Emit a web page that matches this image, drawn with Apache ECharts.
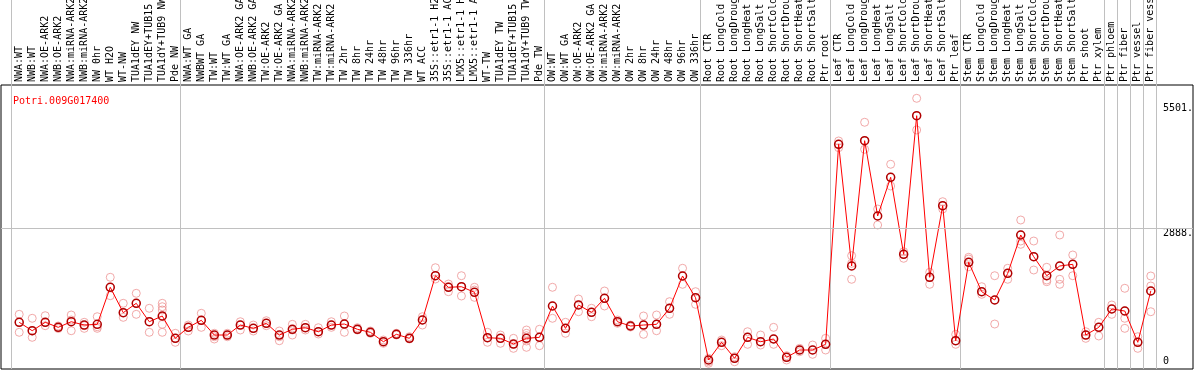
<!DOCTYPE html>
<html>
<head>
<meta charset="utf-8">
<title>Potri.009G017400</title>
<script src="https://cdn.jsdelivr.net/npm/echarts@6/dist/echarts.min.js"></script>
<style>
    html, body { margin: 0; padding: 0; background: #fff; }
    #chart_container { width: 1194px; height: 370px; }
</style>
</head>
<body>
<div id="chart_container"></div>
<script>
"use strict";

const geneName = 'Potri.009G017400';

const categories = [
    'NWA:WT', 'NWB:WT', 'NWA:OE-ARK2', 'NWB:OE-ARK2', 'NWA:miRNA-ARK2', 'NWB:miRNA-ARK2', 'NW 0hr',
    'WT H2O', 'WT-NW', 'TUA1dEY NW', 'TUA1dEY+TUB15 NW', 'TUA1dY+TUB9 NW', 'Pde NW',
    'NWA:WT GA', 'NWBWT GA', 'TW:WT', 'TW:WT GA', 'NWA:OE-ARK2 GA', 'NWB:OE-ARK2 GA', 'TW:OE-ARK2',
    'TW:OE-ARK2 GA', 'NWA:miRNA-ARK2', 'NWB:miRNA-ARK2', 'TW:miRNA-ARK2', 'TW:miRNA-ARK2',
    'TW 2hr', 'TW 8hr', 'TW 24hr', 'TW 48hr', 'TW 96hr', 'TW 336hr', 'WT ACC',
    '35S::etr1-1 H2O', '35S::etr1-1 ACC', 'LMX5::etr1-1 H2O', 'LMX5::etr1-1 ACC', 'WT-TW',
    'TUA1dEY TW', 'TUA1dEY+TUB15 TW', 'TUA1dY+TUB9 TW', 'Pde TW',
    'OW:WT', 'OW:WT GA', 'OW:OE-ARK2', 'OW:OE-ARK2 GA', 'OW:miRNA-ARK2', 'OW:miRNA-ARK2',
    'OW 2hr', 'OW 8hr', 'OW 24hr', 'OW 48hr', 'OW 96hr', 'OW 336hr',
    'Root CTR', 'Root LongCold', 'Root LongDrought', 'Root LongHeat', 'Root LongSalt',
    'Root ShortCold', 'Root ShortDrought', 'Root ShortHeat', 'Root ShortSalt', 'Ptr root',
    'Leaf CTR', 'Leaf LongCold', 'Leaf LongDrought', 'Leaf LongHeat', 'Leaf LongSalt',
    'Leaf ShortCold', 'Leaf ShortDrought', 'Leaf ShortHeat', 'Leaf ShortSalt', 'Ptr leaf',
    'Stem CTR', 'Stem LongCold', 'Stem LongDrought', 'Stem LongHeat', 'Stem LongSalt',
    'Stem ShortCold', 'Stem ShortDrought', 'Stem ShortHeat', 'Stem ShortSalt', 'Ptr shoot', 'Ptr xylem',
    'Ptr phloem', 'Ptr fiber', 'Ptr vessel', 'Ptr fiber vessel'
];

// index of the first sample of each experiment block (grey separators)
const groupStarts = [0, 13, 41, 53, 63, 73, 84, 85, 86, 87];

const means = [
    924, 748, 924, 819, 936, 867, 882, 1656, 1125, 1321, 936, 1056, 589,
    819, 966, 658, 658, 867, 798, 903, 658, 778, 811, 727, 867, 888, 778, 715, 518, 673, 589,
    972, 1898, 1656, 1668, 1551, 602, 589, 470, 589, 610,
    1265, 798, 1286, 1133, 1426, 936, 847, 867, 882, 1217, 1892, 1438,
    136, 506, 171, 610, 518, 575, 192, 345, 345, 464,
    4645, 2101, 4720, 3146, 3955, 2345, 5242, 1865, 3361, 539,
    2178, 1564, 1390, 1948, 2749, 2295, 1898, 2101, 2136, 658, 819,
    1202, 1160, 506, 1578
];

const replicates = [
    [1091, 924, 715], [1008, 742, 610], [1062, 924, 853], [847, 819, 794], [1077, 972, 748],
    [924, 853, 798], [1041, 832, 798], [1865, 1656, 1480], [1321, 1125, 1028], [1530, 1321, 1091],
    [1217, 936, 715], [1321, 1250, 1181, 1041, 882, 715], [694, 589, 506],
    [867, 819, 742], [1112, 966, 819], [694, 623, 575], [694, 658, 623], [936, 867, 763],
    [867, 798, 742], [957, 903, 853], [742, 623, 539], [882, 763, 658], [882, 811, 763],
    [811, 727, 679], [936, 867, 819], [1056, 888, 715], [811, 778, 763], [742, 715, 694],
    [554, 518, 485], [694, 673, 658], [623, 589, 575], [1041, 972, 867], [2065, 1898, 1829],
    [1724, 1668, 1564], [1898, 1668, 1474], [1656, 1599, 1446], [715, 602, 506], [658, 589, 485],
    [589, 470, 380], [763, 694, 644, 533, 401], [778, 610, 435],
    [1656, 1265, 1008], [924, 798, 694], [1411, 1286, 1145], [1217, 1133, 1041], [1578, 1426, 1265],
    [972, 936, 903], [867, 847, 826], [1056, 867, 673], [1077, 882, 748], [1355, 1217, 1091],
    [2053, 1892, 1718], [1564, 1438, 1300],
    [171, 100, 67], [554, 506, 435], [205, 171, 100], [727, 610, 464], [658, 518, 449],
    [819, 575, 464], [226, 192, 136], [380, 345, 310], [449, 345, 255], [589, 464, 345],
    [4714, 4645, 4574], [2316, 2157, 1823], [5105, 4720, 4540], [3292, 3146, 2958], [4227, 3955, 3773],
    [2400, 2345, 2262], [5606, 5242, 4944], [1969, 1865, 1718], [3445, 3361, 3292], [673, 539, 464],
    [2283, 2247, 2178, 2086], [1668, 1564, 1509], [1898, 1390, 888], [2053, 1948, 1823],
    [3062, 2749, 2623, 2554], [2623, 2295, 2017], [2074, 1898, 1808, 1773], [2749, 2101, 1823, 1718],
    [2331, 2136, 1898], [727, 658, 589], [924, 819, 638],
    [1286, 1202, 1091], [1635, 1160, 1008, 798], [623, 506, 380], [1892, 1683, 1578, 1145]
];

const yTickValues = [0, 2888, 5501];

// value range of the plot box (y 85..369)
const Y_MIN = -52, Y_MAX = 5884;
const MONO = '"DejaVu Sans Mono", "Liberation Mono", monospace';
const BAND_W = 1144.6;


let pageLoaded = () => {

    let repPoints = [];
    replicates.forEach((reps, i) => reps.forEach(v => repPoints.push([i, v])));

    let optEchart = {
        animation: false,
        backgroundColor: '#fff',
        title: {
            text: geneName, left: 8, top: 91,
            textStyle: { fontFamily: MONO, fontSize: 10, fontWeight: 'normal', color: '#ff0000' }
        },
        grid: [
            // frame
            { left: 1, right: 1, top: 85, bottom: 1, outerBoundsMode: 'none', show: true, borderColor: '#000', borderWidth: 1, backgroundColor: 'transparent' },
            // block separators (full height)
            { left: 11.2, width: BAND_W, top: 0, bottom: 1, outerBoundsMode: 'none' },
            // data
            { left: 12.7, width: BAND_W, top: 85, bottom: 1, outerBoundsMode: 'none' }
        ],
        xAxis: [
            { gridIndex: 0, type: 'value', min: 0, max: 1, show: false },
            {
                gridIndex: 1, type: 'category', data: categories,
                axisLine: { show: false }, axisTick: { show: false }, axisLabel: { show: false },
                splitLine: {
                    show: true,
                    interval: (idx) => groupStarts.includes(idx),
                    lineStyle: { color: '#c0c0c0', width: 1 }
                }
            },
            {
                gridIndex: 2, type: 'category', data: categories, position: 'top',
                axisLine: { show: false }, axisTick: { show: false }, splitLine: { show: false },
                axisLabel: { interval: 0, rotate: 90, margin: 3, fontFamily: MONO, fontSize: 10, color: '#000' }
            }
        ],
        yAxis: [
            {
                gridIndex: 0, type: 'value', min: Y_MIN, max: Y_MAX, position: 'right',
                axisLine: { show: false }, axisTick: { show: false }, splitLine: { show: false },
                axisLabel: {
                    inside: true, margin: 30, align: 'left',
                    customValues: yTickValues,
                    formatter: (v) => v === 0 ? '{z|0}' : '{n|' + v + '.}',
                    rich: {
                        n: { fontFamily: MONO, fontSize: 10, color: '#000', padding: [10, 0, 0, 0] },
                        z: { fontFamily: MONO, fontSize: 10, color: '#000', padding: [0, 0, 10, 0] }
                    }
                }
            },
            { gridIndex: 1, type: 'value', min: 0, max: 1, show: false },
            { gridIndex: 2, type: 'value', min: Y_MIN, max: Y_MAX, show: false }
        ],
        series: [
            {
                type: 'line', xAxisIndex: 0, yAxisIndex: 0, data: [], silent: true,
                markLine: {
                    silent: true, symbol: 'none', label: { show: false },
                    lineStyle: { color: '#c0c0c0', width: 1, type: 'solid' },
                    data: [{ yAxis: yTickValues[1] }]
                }
            },
            {
                name: 'replicates', type: 'scatter', xAxisIndex: 2, yAxisIndex: 2,
                data: repPoints, symbol: 'circle', symbolSize: 8, z: 2,
                itemStyle: { color: 'rgba(0,0,0,0)', borderColor: '#ee9494', borderWidth: 1 }
            },
            {
                name: 'mean', type: 'line', xAxisIndex: 2, yAxisIndex: 2,
                data: means, symbol: 'circle', symbolSize: 8, showAllSymbol: true, z: 3,
                lineStyle: { color: '#ff0000', width: 1 },
                itemStyle: { color: 'rgba(0,0,0,0)', borderColor: '#b00000', borderWidth: 1.5 }
            }
        ]
    };

    let chartDom = document.getElementById('chart_container');
    let myChart = echarts.init(chartDom);
    myChart.setOption(optEchart);
    console.log(`echart config and creation complete`)
}


window.addEventListener('load', pageLoaded, false);
</script>
</body>
</html>
